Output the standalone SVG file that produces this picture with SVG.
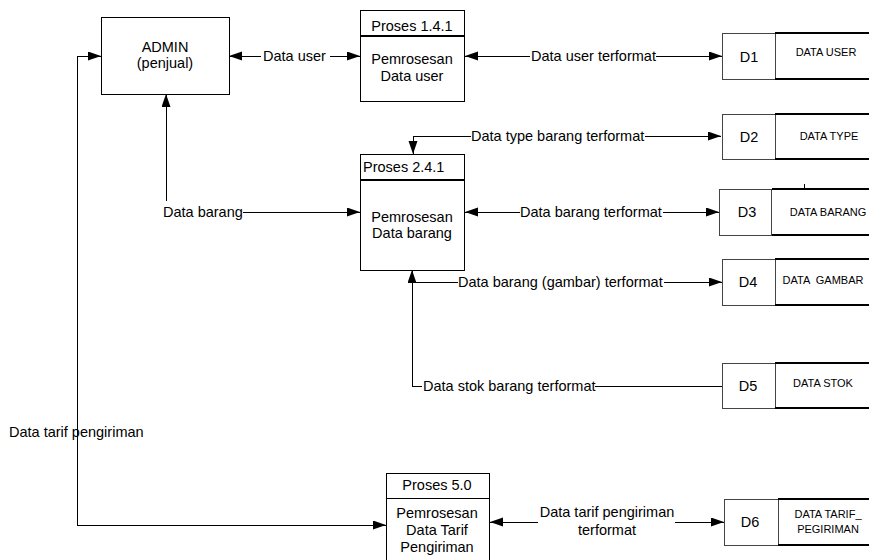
<svg xmlns="http://www.w3.org/2000/svg" width="869" height="560" viewBox="0 0 869 560">
<style>
text{font-family:"Liberation Sans",Arial,sans-serif;fill:#000}
.t{font-size:14.5px}
.c{text-anchor:middle}
.s{font-size:11px}
.box{fill:#fff;stroke:#000;stroke-width:1;shape-rendering:crispEdges}
.div{stroke:#000;stroke-width:1.5;shape-rendering:crispEdges}
.idb{fill:#fff;stroke:#444;stroke-width:1;shape-rendering:crispEdges}
.rb{stroke:#000;stroke-width:1.5;fill:none;shape-rendering:crispEdges}
.ln{stroke:#000;stroke-width:1;fill:none;shape-rendering:crispEdges}
</style>
<defs>
<marker id="ah" markerUnits="userSpaceOnUse" markerWidth="14" markerHeight="10" refX="13" refY="4.5" orient="auto-start-reverse" viewBox="0 0 14 10">
<path d="M0,0 L13,4.5 L0,9 z" fill="#000" style="shape-rendering:auto"/>
</marker>
</defs>
<rect width="869" height="560" fill="#fff"/>

<g id="connectors">
<line class="ln" x1="229" y1="56" x2="261" y2="56" marker-start="url(#ah)"/>
<line class="ln" x1="330" y1="56" x2="360" y2="56" marker-end="url(#ah)"/>
<text class="t" x="263" y="61">Data user</text>
<line class="ln" x1="465" y1="56" x2="530" y2="56" marker-start="url(#ah)"/>
<line class="ln" x1="656" y1="56" x2="722" y2="56" marker-end="url(#ah)"/>
<text class="t" x="531" y="61">Data user terformat</text>
<polyline class="ln" points="471,136 413,136 413,154" marker-end="url(#ah)"/>
<line class="ln" x1="645" y1="136" x2="721" y2="136" marker-end="url(#ah)"/>
<text class="t" x="471" y="141">Data type barang terformat</text>
<line class="ln" x1="166" y1="201" x2="166" y2="94" marker-end="url(#ah)"/>
<line class="ln" x1="243" y1="212" x2="360" y2="212" marker-end="url(#ah)"/>
<text class="t" x="163" y="217">Data barang</text>
<line class="ln" x1="465" y1="212" x2="520" y2="212" marker-start="url(#ah)"/>
<line class="ln" x1="663" y1="212" x2="719" y2="212" marker-end="url(#ah)"/>
<text class="t" x="520" y="217">Data barang terformat</text>
<line class="ln" x1="412" y1="386" x2="412" y2="270" marker-end="url(#ah)"/>
<line class="ln" x1="412" y1="282" x2="458" y2="282"/>
<line class="ln" x1="664" y1="282" x2="722" y2="282" marker-end="url(#ah)"/>
<text class="t" x="458" y="287">Data barang (gambar) terformat</text>
<line class="ln" x1="412" y1="386" x2="422" y2="386"/>
<line class="ln" x1="595" y1="386" x2="722" y2="386"/>
<text class="t" x="423" y="391">Data stok barang terformat</text>
<polyline class="ln" points="101,56 77,56 77,525 386,525" marker-start="url(#ah)" marker-end="url(#ah)"/>
<text class="t" x="9" y="437">Data tarif pengiriman</text>
<line class="ln" x1="490" y1="522" x2="538" y2="522" marker-start="url(#ah)"/>
<line class="ln" x1="675" y1="522" x2="724" y2="522" marker-end="url(#ah)"/>
<text class="t c" x="607" y="517">Data tarif pengiriman</text>
<text class="t c" x="607" y="535">terformat</text>
</g>

<g id="admin">
<rect class="box" x="101" y="17" width="128" height="77"/>
<text class="t c" x="165" y="52">ADMIN</text>
<text class="t c" x="165" y="68">(penjual)</text>
</g>

<g id="proses-1-4-1">
<rect class="box" x="360" y="10" width="104" height="91"/>
<line class="div" x1="360" y1="36" x2="464" y2="36"/>
<text class="t c" x="412" y="31">Proses 1.4.1</text>
<text class="t c" x="412" y="64">Pemrosesan</text>
<text class="t c" x="412" y="81">Data user</text>
</g>

<g id="proses-2-4-1">
<rect class="box" x="360" y="154" width="104" height="116"/>
<line class="div" x1="360" y1="180" x2="464" y2="180"/>
<text class="t" x="363" y="172">Proses 2.4.1</text>
<text class="t c" x="412" y="222">Pemrosesan</text>
<text class="t c" x="412" y="238">Data barang</text>
</g>

<g id="proses-5-0">
<rect class="box" x="386" y="473" width="103" height="92"/>
<line class="div" x1="386" y1="498.5" x2="489" y2="498.5"/>
<text class="t c" x="437" y="490">Proses 5.0</text>
<text class="t c" x="437" y="518">Pemrosesan</text>
<text class="t c" x="437" y="535">Data Tarif</text>
<text class="t c" x="437" y="552">Pengiriman</text>
</g>

<g id="d1">
<rect class="idb" x="722" y="33" width="53" height="46"/>
<path class="rb" d="M775,33 H872 M775,79 H872"/>
<text class="t c" x="749" y="62">D1</text>
<text class="s c" x="826" y="56">DATA USER</text>
</g>

<g id="d2">
<rect class="idb" x="722" y="114" width="53" height="45"/>
<path class="rb" d="M775,114 H872 M775,159 H872"/>
<text class="t c" x="749" y="142">D2</text>
<text class="s c" x="829" y="140">DATA TYPE</text>
</g>

<g id="d3">
<rect class="idb" x="719.5" y="189" width="52" height="46"/>
<path class="rb" d="M771.5,189 H872 M771.5,235 H872"/>
<line class="ln" x1="804" y1="184" x2="804" y2="189"/>
<text class="t c" x="747" y="217">D3</text>
<text class="s c" x="828" y="216">DATA BARANG</text>
</g>

<g id="d4">
<rect class="idb" x="722" y="259" width="53" height="46"/>
<path class="rb" d="M775,259 H872 M775,305 H872"/>
<text class="t c" x="748" y="287">D4</text>
<text class="s c" x="823" y="284" xml:space="preserve">DATA  GAMBAR</text>
</g>

<g id="d5">
<rect class="idb" x="722" y="363" width="53" height="45"/>
<path class="rb" d="M775,363 H872 M775,408 H872"/>
<text class="t c" x="748" y="391">D5</text>
<text class="s c" x="823" y="387">DATA STOK</text>
</g>

<g id="d6">
<rect class="idb" x="724" y="499" width="54" height="46"/>
<path class="rb" d="M778,499 H872 M778,545 H872"/>
<text class="t c" x="750" y="527">D6</text>
<text class="s c" x="828" y="518">DATA TARIF_</text>
<text class="s c" x="828" y="533">PEGIRIMAN</text>
</g>
</svg>
